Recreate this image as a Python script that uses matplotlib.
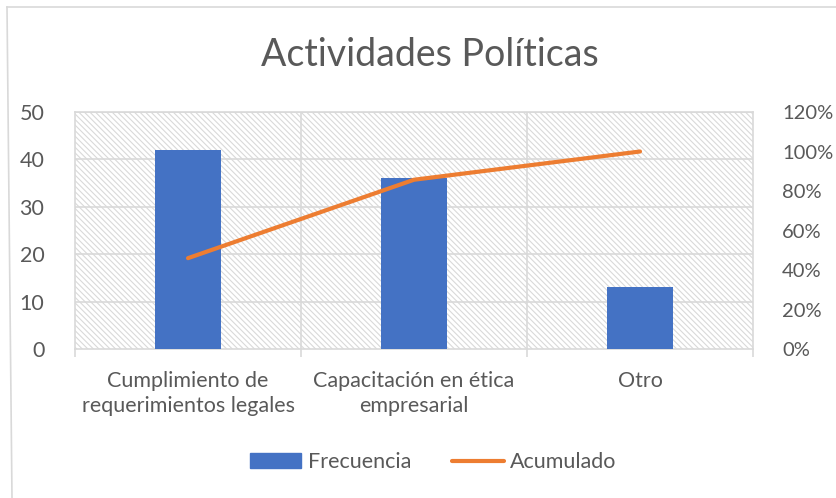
import matplotlib
matplotlib.use("Agg")
import matplotlib.pyplot as plt
from matplotlib.lines import Line2D
import numpy as np

categories = ["Cumplimiento de\nrequerimientos legales", "Capacitación en ética\nempresarial", "Otro"]
frecuencia = [42, 36, 13]
acumulado = [0.46, 0.857, 1.0]
y_ticks = [0, 10, 20, 30, 40, 50]
y2_ticks = [0, 0.2, 0.4, 0.6, 0.8, 1.0, 1.2]

plt.rcParams['font.family'] = ['Lato', 'DejaVu Sans']
plt.rcParams['hatch.color'] = '#d9d9d9'
plt.rcParams['hatch.linewidth'] = 0.8

txt = '#595959'
grid = '#d9d9d9'
fs = 15.5

fig = plt.figure(figsize=(8.36, 4.98), dpi=100)
ax = fig.add_axes([75/836, 1-349/498, (753-75)/836, (349-112)/498])
ax.patch.set_facecolor('white')
ax.patch.set_hatch('\\' * 6)
ax.patch.set_edgecolor('#d9d9d9')

x = np.arange(len(categories))
ax.bar(x, frecuencia, width=0.29, color='#4472C4', zorder=3, label='Frecuencia')
ax.set_xlim(-0.5, len(categories) - 0.5)
ax.set_ylim(0, 50)
ax.set_yticks(y_ticks)
ax.set_yticklabels([str(v) for v in y_ticks])
for v in y_ticks[1:]:
    ax.axhline(v, color=grid, lw=1.2, zorder=1)
for b in [0.5, 1.5]:
    ax.axvline(b, color=grid, lw=1.2, zorder=1)
ax.set_xticks(x)
ax.set_xticklabels(categories, linespacing=1.3)
ax.set_xticks([-0.5, 0.5, 1.5, 2.5], minor=True)
ax.tick_params(axis='x', which='major', length=0, pad=16, labelsize=fs, labelcolor=txt)
ax.tick_params(axis='x', which='minor', length=6, color=grid, width=1.2)
ax.tick_params(axis='y', length=0, pad=22, labelsize=fs, labelcolor=txt)
for s in ax.spines.values():
    s.set_color(grid)
    s.set_linewidth(1.2)

ax2 = ax.twinx()
ax2.plot(x, acumulado, color='#ED7D31', lw=3.0, zorder=4, solid_capstyle='round')
ax2.set_ylim(0, 1.2)
ax2.set_yticks(y2_ticks)
ax2.set_yticklabels([f"{int(round(v*100))}%" for v in y2_ticks])
ax2.tick_params(axis='y', length=0, pad=21, labelsize=14.5, labelcolor=txt)
for s in ax2.spines.values():
    s.set_visible(False)

fig.text(430/836, 1-55/498, "Actividades Políticas", ha='center', va='center',
         fontsize=27, color=txt)

handles = [plt.Rectangle((0, 0), 1, 1, color='#4472C4'),
           Line2D([0], [0], color='#ED7D31', lw=3.0, solid_capstyle='round')]
fig.legend(handles, ['Frecuencia', 'Acumulado'], loc='center', ncol=2,
           bbox_to_anchor=(433/836, 1-462/498), frameon=False, fontsize=fs,
           labelcolor=txt, handlelength=2.4, handletextpad=0.3, columnspacing=1.9,
           handleheight=0.65)

fig.add_artist(Line2D([7/836, 12/836], [1-7/498, 0], transform=fig.transFigure,
                      color=grid, lw=1.2))
fig.add_artist(Line2D([7/836, 1], [1-7/498, 1-7/498], transform=fig.transFigure,
                      color=grid, lw=1.2))

fig.savefig('out.png', dpi=100)
